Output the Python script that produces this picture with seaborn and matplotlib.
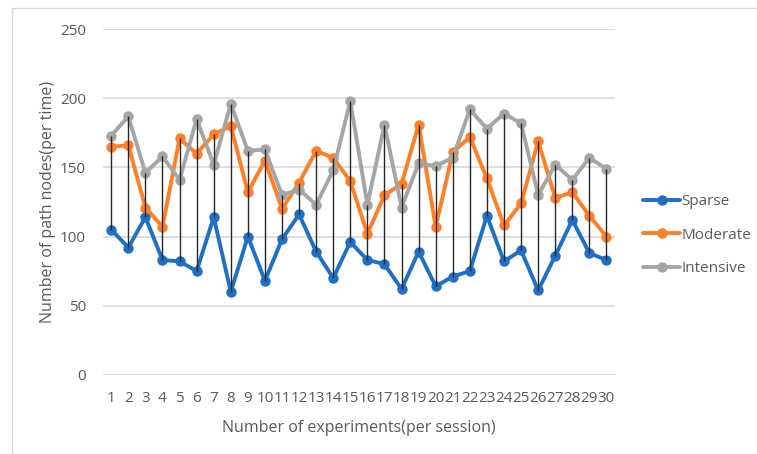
import numpy as np
import pandas as pd
import seaborn as sns
import matplotlib
matplotlib.use("Agg")
import matplotlib.pyplot as plt
from matplotlib.lines import Line2D

experiments = list(range(1, 31))
sparse = [105, 92, 114, 83, 82, 75, 114, 60, 100, 68,
          98, 116, 89, 70, 96, 83, 80, 62, 89, 64,
          71, 75, 115, 82, 90, 61, 86, 112, 88, 83]
moderate = [165, 166, 121, 107, 171, 160, 174, 180, 132, 155,
            120, 139, 162, 157, 140, 102, 130, 138, 181, 107,
            161, 172, 142, 108, 124, 169, 128, 132, 115, 100]
intensive = [173, 187, 146, 158, 141, 185, 152, 196, 162, 163,
             130, 134, 123, 148, 198, 123, 181, 121, 153, 151,
             157, 192, 178, 189, 182, 130, 152, 141, 157, 149]
series_names = ["Sparse", "Moderate", "Intensive"]
colors = ["#1F6FC5", "#FF7F27", "#A5A5A5"]
y_ticks = [0, 50, 100, 150, 200, 250]

sns.set_theme(style="white")
plt.rcParams["font.family"] = ["Open Sans", "DejaVu Sans"]

df = pd.DataFrame({
    "x": experiments * 3,
    "value": sparse + moderate + intensive,
    "series": [series_names[0]] * 30 + [series_names[1]] * 30 + [series_names[2]] * 30,
})

fig = plt.figure(figsize=(7.57, 4.54), dpi=100)
ax = fig.add_axes([0.1357, 0.1747, 0.8124 - 0.1357, 0.9355 - 0.1747])

# high-low lines
arr = np.array([sparse, moderate, intensive])
ax.vlines(experiments, arr.min(axis=0), arr.max(axis=0), color="#262626", lw=1.0, zorder=3)

sns.lineplot(data=df, x="x", y="value", hue="series", palette=colors,
             hue_order=series_names, marker="o", markersize=7.5, markeredgewidth=0,
             linewidth=2.8, ax=ax, legend=False, zorder=2)

ax.set_xlim(0.5, 30.5)
ax.set_ylim(0, 250)
ax.set_yticks(y_ticks)
ax.set_xticks(experiments)
ax.set_xticklabels([str(e) for e in experiments])
ax.yaxis.grid(True, color="#D9D9D9", lw=1.2)
ax.set_axisbelow(True)
for s in ax.spines.values():
    s.set_visible(False)
ax.tick_params(axis="both", length=0, colors="#595959", labelsize=11)
ax.tick_params(axis="y", pad=12)
ax.tick_params(axis="x", pad=12)
ax.set_xlabel("Number of experiments(per session)", fontsize=11.5, color="#595959", labelpad=10)
ax.set_ylabel("Number of path nodes(per time)", fontsize=11.5, color="#595959", labelpad=3)

handles = [Line2D([], [], color=c, lw=2.8, marker="o", markersize=7.5, markeredgewidth=0)
           for c in colors]
leg = fig.legend(handles, series_names, loc="center left", bbox_to_anchor=(0.850, 0.482),
                 frameon=False, fontsize=11, handlelength=2.4, handletextpad=0.1,
                 labelspacing=1.2, labelcolor="#595959", borderpad=0, borderaxespad=0)

# chart area border (top and left)
fig.add_artist(Line2D([12 / 757, 1], [1 - 8 / 454, 1 - 8 / 454], color="#D9D9D9", lw=1,
                      transform=fig.transFigure))
fig.add_artist(Line2D([12 / 757, 12 / 757], [0, 1 - 8 / 454], color="#D9D9D9", lw=1,
                      transform=fig.transFigure))

fig.savefig("out.png", dpi=100)
